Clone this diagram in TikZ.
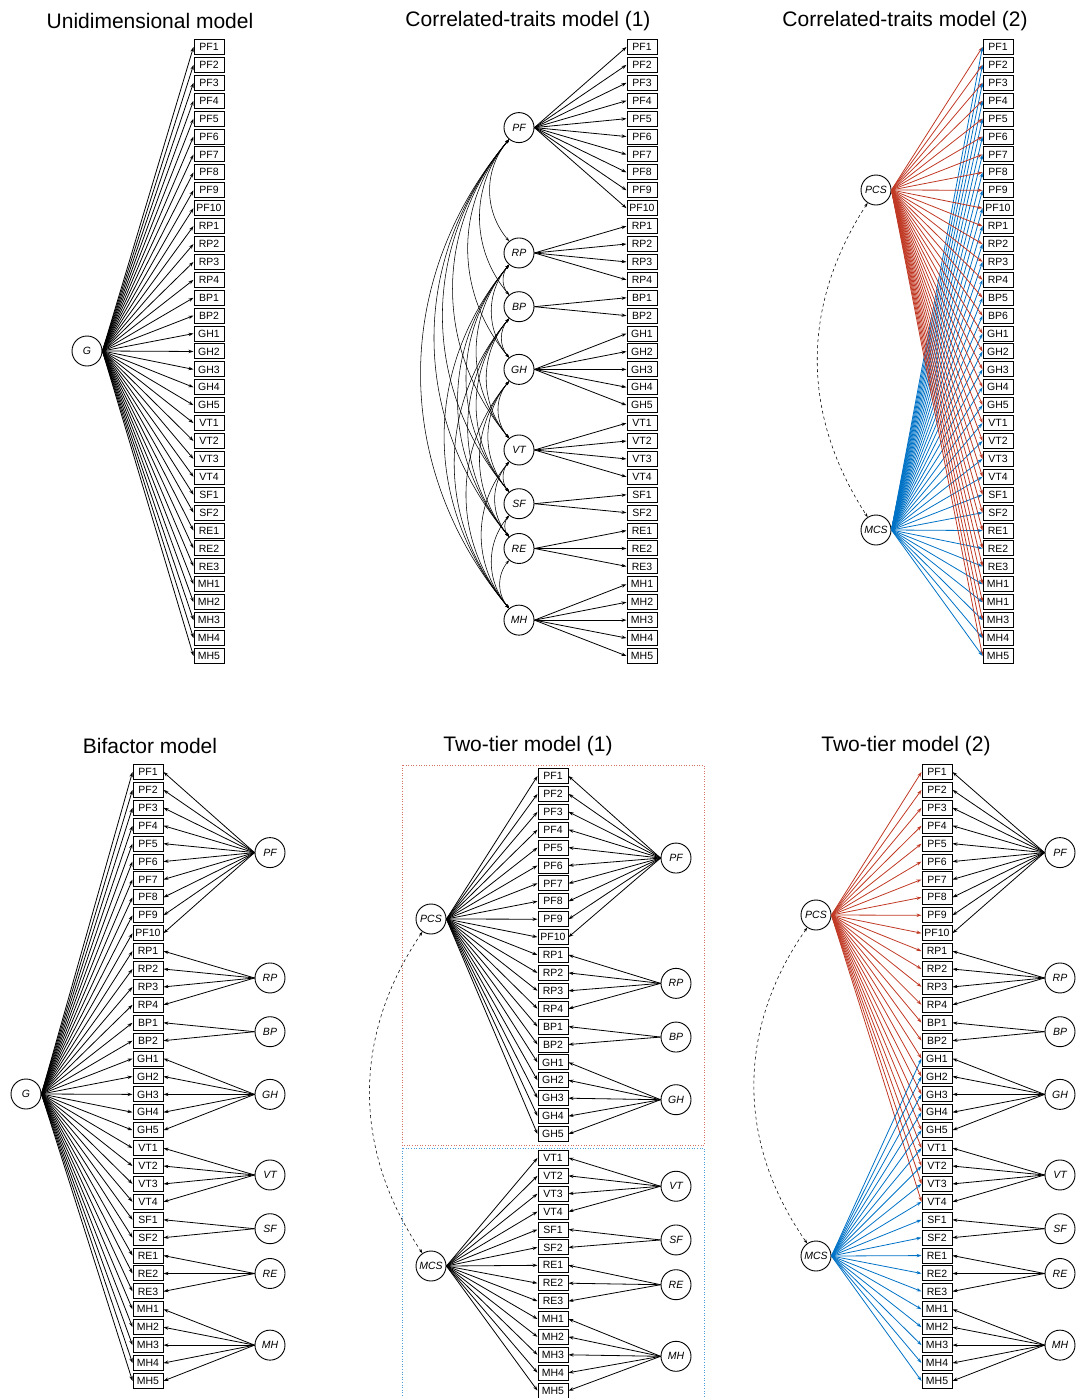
\documentclass[tikz,border=0pt]{standalone}
\usepackage{fontspec}
\setmainfont{Liberation Sans}
\usepackage{tikz}
\usetikzlibrary{arrows.meta}
\definecolor{pcsred}{RGB}{192,57,36}
\definecolor{mcsblue}{RGB}{0,114,198}
\newcommand{\itemlist}{PF1,PF2,PF3,PF4,PF5,PF6,PF7,PF8,PF9,PF10,RP1,RP2,RP3,RP4,BP1,BP2,GH1,GH2,GH3,GH4,GH5,VT1,VT2,VT3,VT4,SF1,SF2,RE1,RE2,RE3,MH1,MH2,MH3,MH4,MH5}
\newcommand{\itemlistb}{PF1,PF2,PF3,PF4,PF5,PF6,PF7,PF8,PF9,PF10,RP1,RP2,RP3,RP4,BP5,BP6,GH1,GH2,GH3,GH4,GH5,VT1,VT2,VT3,VT4,SF1,SF2,RE1,RE2,RE3,MH1,MH1,MH3,MH4,MH5}
\newcommand{\grouplist}{PF/1/10,RP/11/14,BP/15/16,GH/17/21,VT/22/25,SF/26/27,RE/28/30,MH/31/35}

\begin{document}
\begin{tikzpicture}[x=1pt,y=1pt,
    item/.style={rectangle,draw,line width=1pt,minimum width=30pt,minimum height=15pt,inner sep=0pt,font=\fontsize{10.5}{10.5}\selectfont},
    lat/.style={circle,draw,line width=0.9pt,minimum size=30pt,inner sep=0pt,font=\fontsize{10.5}{10.5}\selectfont\itshape},
    load/.style={-{Stealth[length=5pt,width=3.4pt]},line width=0.8pt},
    corr/.style={{Stealth[length=4pt,width=2.8pt]}-{Stealth[length=4pt,width=2.8pt]},line width=0.55pt},
    ttl/.style={font=\fontsize{21}{21}\selectfont}]
\useasboundingbox (0,0) rectangle (1076,-1398);

% 单维模型
\node[ttl] (ttlU) at (150,-21) {Unidimensional model};
\foreach \lab [count=\i] in \itemlist
  \node[item] (u\i) at (209,{-47-(\i-1)*17.91}) {\lab};
\node[lat] (uG) at (87,-351) {G};
\foreach \i in {1,...,35}
  \draw[load] (uG.east) -- (u\i.west);

% 相关特质模型 (1)
\node[ttl] (ttlC) at (528,-21) {Correlated-traits model (1)};
\foreach \lab [count=\i] in \itemlist
  \node[item] (c\i) at (642,{-47-(\i-1)*17.91}) {\lab};
\foreach \fac/\first/\last in \grouplist {
  \node[lat] (c\fac) at (519,{-47-((\first+\last)/2-1)*17.91}) {\fac};
  \foreach \i in {\first,...,\last}
    \draw[load] (c\fac.east) -- (c\i.west);
}
% 因子间相关
\foreach \fac [count=\m] in {PF,RP,BP,GH,VT,SF,RE,MH}
  \foreach \gac [count=\n] in {PF,RP,BP,GH,VT,SF,RE,MH}
    {\ifnum\n>\m \draw[corr] (c\fac) to[bend right=40] (c\gac);\fi}

% 相关特质模型 (2)
\node[ttl] (ttlD) at (905,-21) {Correlated-traits model (2)};
\foreach \lab [count=\i] in \itemlistb
  \node[item] (d\i) at (998,{-47-(\i-1)*17.91}) {\lab};
\node[lat] (dPCS) at (876,-190) {PCS};
\node[lat] (dMCS) at (876,-530) {MCS};
\foreach \i in {1,...,35} {
  \draw[load,pcsred] (dPCS.east) -- (d\i.west);
  \draw[load,mcsblue] (dMCS.east) -- (d\i.west);
}
\draw[corr,dashed] (dPCS) to[bend right=33] (dMCS);

% 双因子模型
\node[ttl] (ttlB) at (150,-746) {Bifactor model};
\foreach \lab [count=\i] in \itemlist
  \node[item] (b\i) at (148,{-772-(\i-1)*17.91}) {\lab};
\node[lat] (bG) at (26,-1094) {G};
\foreach \i in {1,...,35}
  \draw[load] (bG.east) -- (b\i.west);
\foreach \fac/\first/\last in \grouplist {
  \node[lat] (b\fac) at (270,{-772-((\first+\last)/2-1)*17.91}) {\fac};
  \foreach \i in {\first,...,\last}
    \draw[load] (b\fac.west) -- (b\i.east);
}

% 两层模型 (1)
\node[ttl] (ttlT) at (528,-746) {Two-tier model (1)};
\draw[pcsred!70,dotted,line width=0.6pt] (402,-765) rectangle (704,-1145);
\draw[mcsblue!70,dotted,line width=0.6pt] (402,-1148) rectangle (704,-1402);
\foreach \lab [count=\i] in \itemlist
  \node[item] (t\i) at (553,{-776-(\i-1)*17.9-6*(\i>21)}) {\lab};
\node[lat] (tPCS) at (431,-919) {PCS};
\node[lat] (tMCS) at (431,-1266) {MCS};
\foreach \i in {1,...,21}
  \draw[load] (tPCS.east) -- (t\i.west);
\foreach \i in {22,...,35}
  \draw[load] (tMCS.east) -- (t\i.west);
\foreach \fac/\first/\last in \grouplist {
  \node[lat] (t\fac) at (676,{-777.5-((\first+\last)/2-1)*17.9-6*(\first>21)}) {\fac};
  \foreach \i in {\first,...,\last}
    \draw[load] (t\fac.west) -- (t\i.east);
}
\draw[corr,dashed] (tPCS) to[bend right=34] (tMCS);

% 两层模型 (2)
\node[ttl] (ttlW) at (906,-746) {Two-tier model (2)};
\foreach \lab [count=\i] in \itemlist
  \node[item] (w\i) at (937,{-772-(\i-1)*17.91}) {\lab};
\node[lat] (wPCS) at (816,-915) {PCS};
\node[lat] (wMCS) at (816,-1256) {MCS};
\foreach \i in {1,...,25}
  \draw[load,pcsred] (wPCS.east) -- (w\i.west);
\foreach \i in {17,...,35}
  \draw[load,mcsblue] (wMCS.east) -- (w\i.west);
\foreach \fac/\first/\last in \grouplist {
  \node[lat] (w\fac) at (1060,{-772-((\first+\last)/2-1)*17.91}) {\fac};
  \foreach \i in {\first,...,\last}
    \draw[load] (w\fac.west) -- (w\i.east);
}
\draw[corr,dashed] (wPCS) to[bend right=35] (wMCS);
\end{tikzpicture}
\end{document}
